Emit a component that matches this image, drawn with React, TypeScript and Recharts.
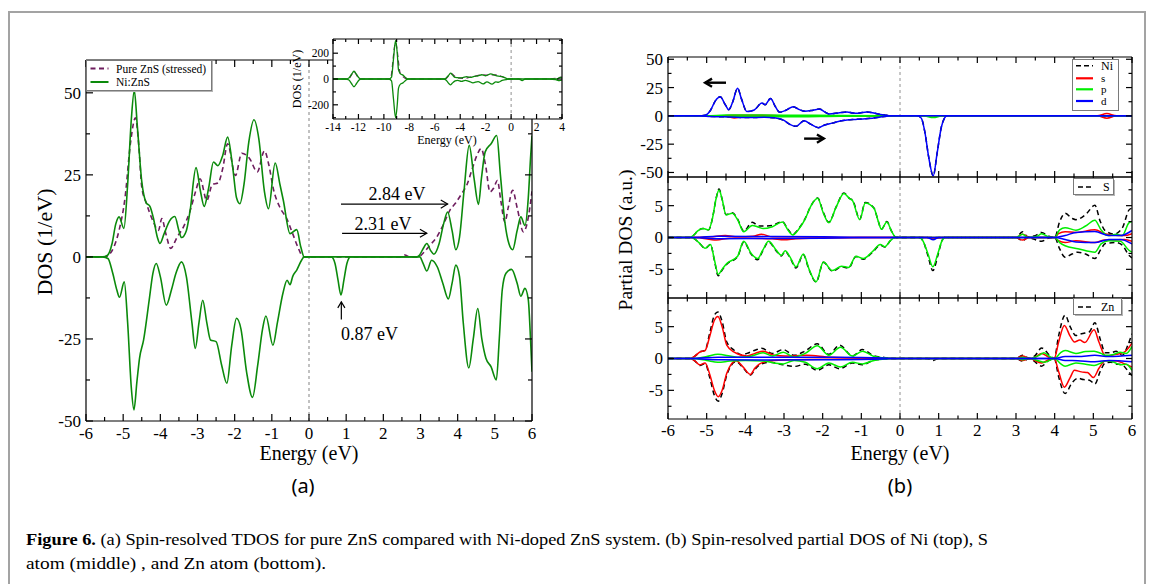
import React from 'react';
import { LineChart, Line, XAxis, YAxis, ReferenceLine } from 'recharts';

type P = [number, number];

// ---------- Panel (a): total DOS ----------
const pureZnSUp: P[] = [
  [-6,0],[-5.5,0],[-5.4,0.5],[-5.25,3],[-5.11,8.1],[-4.95,18],[-4.8,35],[-4.67,42.4],[-4.58,34],[-4.5,21.3],[-4.37,16.2],[-4.2,11],[-4.05,8.1],[-3.96,11.7],[-3.85,7],[-3.72,2.6],[-3.55,6],[-3.38,9.1],[-3.2,14],[-3.05,20],[-2.93,23.8],[-2.75,17.2],[-2.6,22.1],[-2.45,22.5],[-2.32,27],[-2.19,34.5],[-1.98,24.8],[-1.81,31.6],[-1.6,30],[-1.39,25.9],[-1.2,32.3],[-1.08,28],[-0.96,20.8],[-0.78,15],[-0.6,11.7],[-0.44,7.1],[-0.3,3],[-0.15,0],[2.45,0],[2.58,0.6],[2.7,0],[2.94,0],[3.1,1.5],[3.25,3.5],[3.44,6.1],[3.6,9.5],[3.79,14.2],[3.95,16.5],[4.11,19.3],[4.25,22],[4.38,26.4],[4.52,31],[4.63,33],[4.75,28],[4.87,19.8],[4.97,21],[5.07,23.3],[5.16,17.2],[5.27,10.6],[5.36,15],[5.48,20.3],[5.6,15],[5.77,7.6],[5.9,12],[6,20],
];
const niZnSUp: P[] = [
  [-6,0],[-5.55,0],[-5.42,0.5],[-5.3,4],[-5.2,10],[-5.11,12.2],[-4.98,8.7],[-4.88,22],[-4.78,42],[-4.7,50.7],[-4.62,40],[-4.5,23],[-4.38,16.5],[-4.28,15.4],[-4.19,12],[-4.08,6],[-4.01,4.1],[-3.9,7],[-3.75,11],[-3.61,12.3],[-3.5,8],[-3.43,5.9],[-3.3,8],[-3.2,14],[-3.04,27.2],[-2.92,20],[-2.82,15.4],[-2.7,21],[-2.57,28.9],[-2.45,27.8],[-2.32,31],[-2.19,36.5],[-2.05,27],[-1.95,18],[-1.86,16.2],[-1.75,22],[-1.62,35],[-1.48,41.8],[-1.35,36],[-1.2,20],[-1.09,14.7],[-0.91,28.6],[-0.78,22],[-0.69,17.2],[-0.51,7.1],[-0.33,8.3],[-0.22,3],[-0.13,0],[2.9,0],[2.97,0.5],[3.07,2.5],[3.17,4.1],[3.27,2],[3.36,0.8],[3.5,4],[3.62,10],[3.73,13.7],[3.85,8],[3.95,2.2],[4.05,6],[4.17,20],[4.31,34],[4.44,24],[4.56,16],[4.64,24],[4.74,32],[4.9,34.5],[5.05,37],[5.15,25],[5.27,10.6],[5.38,4],[5.48,2.2],[5.6,8],[5.7,12.2],[5.81,9.6],[5.9,18],[5.96,30],[6,37],
];
const niZnSDown: P[] = [
  [-6,0],[-5.55,0],[-5.41,-0.5],[-5.28,-5],[-5.17,-10.1],[-5.1,-12.3],[-4.97,-7.6],[-4.88,-20],[-4.78,-40],[-4.71,-46.6],[-4.63,-38],[-4.56,-30.9],[-4.45,-25.3],[-4.3,-13.2],[-4.2,-5],[-4.11,-2],[-4.0,-6],[-3.84,-14.7],[-3.7,-10],[-3.58,-5],[-3.43,-1.5],[-3.3,-6],[-3.15,-20],[-3.06,-27.9],[-2.96,-20],[-2.86,-13.2],[-2.75,-20],[-2.65,-25.3],[-2.5,-25.8],[-2.35,-33],[-2.21,-38.5],[-2.08,-27],[-1.95,-18.7],[-1.83,-22],[-1.68,-35],[-1.52,-42.8],[-1.38,-33],[-1.25,-22],[-1.16,-18],[-0.97,-26.9],[-0.85,-20],[-0.7,-11],[-0.59,-7.1],[-0.51,-8.5],[-0.44,-6],[-0.33,-4],[-0.2,-1],[-0.13,0],[0.6,0],[0.7,-2],[0.78,-7],[0.86,-11.6],[0.94,-7],[1.02,-2],[1.12,0],[2.98,0],[3.07,-2],[3.17,-4.3],[3.3,-1],[3.45,-3],[3.6,-8],[3.75,-12.8],[3.85,-8],[3.95,-2.5],[4.05,-6],[4.15,-20],[4.3,-33.8],[4.42,-25],[4.54,-15.7],[4.65,-25],[4.76,-30.9],[4.9,-33.5],[5.04,-37.5],[5.12,-25],[5.2,-10],[5.3,-5],[5.45,-3.8],[5.6,-8],[5.7,-12],[5.81,-9.6],[5.9,-13],[5.96,-25],[6,-35],
];

// inset (wide energy range)
const insetPureUp: P[] = [
  [-14,0],[-12.8,0],[-12.35,55],[-11.9,0],[-9.5,0],[-9.08,280],[-8.7,40],[-8.1,0],[-5.2,0],[-4.7,42],[-4.3,12],[-3.7,5],[-2.9,22],[-2.2,32],[-1.8,30],[-1.2,32],[-0.5,10],[-0.15,0],[2.5,0],[3.5,6],[4,15],
];
const insetNiUp: P[] = [
  [-14,0],[-13,0],[-12.75,8],[-12.55,35],[-12.35,60],[-12.15,35],[-11.95,8],[-11.8,0],[-9.6,0],[-9.4,15],[-9.25,150],[-9.08,300],[-8.95,200],[-8.85,70],[-8.7,40],[-8.5,30],[-8.3,12],[-8.1,0],[-5.3,0],[-5.1,8],[-4.9,30],[-4.75,45],[-4.6,30],[-4.4,12],[-4.2,10],[-4.0,8],[-3.8,10],[-3.5,18],[-3.2,12],[-2.9,20],[-2.6,25],[-2.3,33],[-2.0,25],[-1.6,40],[-1.3,30],[-1.0,22],[-0.7,18],[-0.45,8],[-0.2,0],[3.6,0],[3.75,8],[3.9,12],[4,10],
];
const insetNiDown: P[] = [
  [-14,0],[-13,0],[-12.75,-8],[-12.55,-35],[-12.35,-60],[-12.15,-35],[-11.95,-8],[-11.8,0],[-9.6,0],[-9.4,-15],[-9.25,-150],[-9.08,-300],[-8.95,-200],[-8.85,-70],[-8.7,-40],[-8.5,-30],[-8.3,-12],[-8.1,0],[-5.3,0],[-5.1,-10],[-4.9,-35],[-4.75,-45],[-4.6,-30],[-4.4,-15],[-4.2,-10],[-3.9,-18],[-3.6,-10],[-3.3,-18],[-3.0,-30],[-2.6,-20],[-2.2,-38],[-1.9,-22],[-1.5,-40],[-1.2,-22],[-1.0,-25],[-0.7,-10],[-0.4,-5],[-0.2,0],[0.6,0],[0.87,-12],[1.1,0],[3.0,0],[3.5,-5],[3.8,-12],[4,-8],
];

// ---------- Panel (b): partial DOS ----------
// Ni
const niDUp: P[] = [
  [-6,0],[-5.2,0],[-5.04,0.5],[-4.9,5],[-4.78,13],[-4.65,16.8],[-4.52,10],[-4.43,5.5],[-4.33,12],[-4.2,24.3],[-4.1,15],[-3.96,3.8],[-3.77,5.2],[-3.57,11.3],[-3.49,9.8],[-3.35,15.3],[-3.22,8],[-3.11,3.2],[-2.95,5],[-2.76,8.1],[-2.6,5.5],[-2.46,4],[-2.25,5],[-2.08,6.1],[-1.95,3.5],[-1.84,1.7],[-1.6,2.5],[-1.37,3.5],[-1.22,2.5],[-1.09,2.3],[-0.86,3.5],[-0.57,1.7],[-0.4,0.8],[-0.24,0],[6,0],
];
const niDDown: P[] = [
  [-6,0],[-5.2,0],[-4.9,-0.5],[-4.4,-1],[-3.9,-1.5],[-3.5,-1.2],[-3.25,-1.7],[-3.0,-4],[-2.85,-7.5],[-2.69,-9.2],[-2.48,-4.3],[-2.3,-7.5],[-2.11,-10.4],[-1.95,-8],[-1.75,-6.4],[-1.47,-4],[-1.1,-3],[-0.71,-2],[-0.34,-0.3],[-0.2,0],[0.45,0],[0.55,-2],[0.65,-15.6],[0.74,-36],[0.86,-53],[0.96,-33],[1.07,-9.8],[1.15,-2],[1.22,0],[6,0],
];
const niTotalUp: P[] = niDUp;
const niTotalDown: P[] = niDDown;
const niSUp: P[] = [[-6,0],[-4.6,0],[-4.3,0.5],[-3.6,0.5],[-3,0],[5.1,0],[5.35,2],[5.6,0],[6,0]];
const niSDown: P[] = [[-6,0],[-4.6,0],[-4.29,-1.8],[-4.0,-0.3],[-3.54,-1.2],[-3.2,-0.2],[-2,0],[5.1,0],[5.35,-2],[5.6,0],[6,0]];
const niPUp: P[] = [[-6,0],[-5,0],[-4.5,0.8],[-3,0.6],[-1.5,0.3],[-0.2,0],[6,0]];
const niPDown: P[] = [[-6,0],[-5,0],[-4.5,-0.5],[-3,-0.8],[-1.5,-0.3],[-0.2,0],[0.6,0],[0.86,-1.5],[1.1,0],[6,0]];

// S
const sTotalUp: P[] = [
  [-6,0],[-5.45,0],[-5.33,0.4],[-5.23,1.05],[-5.09,1.4],[-4.95,1.2],[-4.85,3],[-4.76,6],[-4.68,7.6],[-4.6,6],[-4.5,3.6],[-4.34,3.9],[-4.2,2.9],[-4.04,1.0],[-3.82,2.4],[-3.65,1.8],[-3.54,1.8],[-3.3,1.9],[-3.04,2.5],[-2.9,1.3],[-2.77,0.5],[-2.62,1.4],[-2.46,2.9],[-2.3,5],[-2.13,6.2],[-1.98,3.9],[-1.84,2.4],[-1.65,4.8],[-1.45,7.0],[-1.3,6.1],[-1.23,5.9],[-1.04,2.9],[-0.9,5.5],[-0.67,4.6],[-0.56,2.5],[-0.48,1.3],[-0.34,2.5],[-0.22,1],[-0.1,0],[3.0,0],[3.17,0.9],[3.3,0.1],[3.5,0.3],[3.66,0.8],[3.85,0.2],[4.0,0],[4.13,2.5],[4.27,3.8],[4.45,3.0],[4.55,2.8],[4.8,3.6],[5.04,5.05],[5.18,2.5],[5.31,1.05],[5.54,0.55],[5.75,1.5],[5.92,4.3],[6,4.6],
];
const sTotalDown: P[] = [
  [-6,0],[-5.4,0],[-5.2,-0.8],[-5.04,-1.7],[-4.9,-1.1],[-4.8,-3.6],[-4.7,-6.0],[-4.6,-5.1],[-4.48,-4.2],[-4.2,-3.0],[-4.04,-0.7],[-3.85,-2.6],[-3.68,-3.5],[-3.55,-2.1],[-3.4,-0.7],[-3.2,-2.1],[-3.07,-2.9],[-2.97,-2.2],[-2.85,-3.1],[-2.69,-4.8],[-2.5,-2.7],[-2.35,-5.1],[-2.17,-7.0],[-1.98,-3.9],[-1.75,-5.3],[-1.51,-4.6],[-1.33,-4.8],[-1.14,-3.0],[-0.95,-3.4],[-0.71,-2.3],[-0.51,-1.2],[-0.39,-1.5],[-0.25,-0.5],[-0.13,0],[0.5,0],[0.6,-0.6],[0.72,-2.8],[0.85,-5.2],[0.98,-2.8],[1.08,-0.6],[1.15,0],[3.0,0],[3.17,-0.5],[3.3,0],[3.66,-0.6],[3.85,-0.1],[4.0,0],[4.13,-1.8],[4.27,-3.1],[4.45,-2.6],[4.6,-2.3],[4.8,-2.6],[5.04,-3.3],[5.2,-1.8],[5.31,-0.95],[5.59,-0.8],[5.75,-1.2],[5.92,-2.8],[6,-3.2],
];
const sPUp: P[] = [
  [-6,0],[-5.45,0],[-5.33,0.4],[-5.23,1.05],[-5.09,1.4],[-4.95,1.2],[-4.85,3],[-4.76,6],[-4.68,7.45],[-4.6,6],[-4.5,3.55],[-4.34,3.8],[-4.2,2.8],[-4.04,0.9],[-3.82,1.9],[-3.65,1.6],[-3.54,1.4],[-3.3,1.7],[-3.04,2.45],[-2.9,1.2],[-2.77,0.4],[-2.62,1.3],[-2.46,2.8],[-2.3,5],[-2.13,6.15],[-1.98,3.8],[-1.84,2.3],[-1.65,4.8],[-1.45,6.9],[-1.3,6.1],[-1.23,5.8],[-1.04,2.8],[-0.9,5.4],[-0.67,4.55],[-0.56,2.5],[-0.48,1.3],[-0.34,2.45],[-0.22,1],[-0.1,0],[3.0,0],[3.17,0.5],[3.3,0],[3.55,0.2],[3.66,0.6],[3.85,0.1],[4.0,0],[4.13,1.2],[4.27,1.55],[4.55,1.15],[4.8,1.8],[5.04,2.7],[5.2,1.2],[5.38,0.3],[5.6,0.5],[5.75,0.3],[5.92,2.3],[6,2.5],
];
const sPDown: P[] = [
  [-6,0],[-5.4,0],[-5.2,-0.8],[-5.04,-1.7],[-4.9,-1.1],[-4.8,-3.5],[-4.7,-5.8],[-4.6,-5],[-4.48,-4.1],[-4.2,-2.95],[-4.04,-0.6],[-3.85,-2.5],[-3.68,-3.3],[-3.55,-2],[-3.4,-0.6],[-3.2,-2],[-3.07,-2.8],[-2.97,-2.1],[-2.85,-3],[-2.69,-4.6],[-2.5,-2.6],[-2.35,-5],[-2.17,-6.95],[-1.98,-3.85],[-1.75,-5.2],[-1.51,-4.5],[-1.33,-4.7],[-1.14,-2.95],[-0.95,-3.3],[-0.71,-2.2],[-0.51,-1.1],[-0.39,-1.45],[-0.25,-0.5],[-0.13,0],[0.5,0],[0.6,-0.6],[0.72,-2.5],[0.85,-4.6],[0.98,-2.5],[1.08,-0.6],[1.15,0],[4.0,0],[4.13,-0.8],[4.27,-1.3],[4.6,-1.75],[5.04,-2.3],[5.2,-1.0],[5.4,-0.5],[5.7,-0.6],[5.92,-2.0],[6,-2.3],
];
const sSUp: P[] = [[-6,0],[-5.3,0],[-4.9,0.1],[-4.52,0.3],[-4.2,0.1],[-3.8,0.2],[-3.58,0.5],[-3.3,0.1],[-2.6,0.1],[-1,0],[3.0,0],[3.17,0.5],[3.35,0],[4.0,0],[4.1,0.6],[4.27,0.9],[4.55,0.8],[5.04,1.2],[5.3,0.6],[5.5,0.4],[5.8,0.3],[6,0.6]];
const sSDown: P[] = [[-6,0],[-5.3,0],[-4.75,-0.4],[-4.4,-0.1],[-4.0,-0.1],[-3.3,-0.2],[-3.0,-0.35],[-2.7,-0.2],[-2.3,-0.1],[-1,0],[0.7,0],[0.86,-0.2],[1.1,0],[3.0,0],[3.17,-0.4],[3.35,0],[4.0,0],[4.1,-0.5],[4.27,-0.8],[4.55,-0.5],[5.04,-0.8],[5.3,-0.4],[5.5,-0.4],[5.8,-0.3],[6,-0.6]];
const sDUp: P[] = [[-6,0],[-5.3,0],[-4.7,0.2],[-3.5,0.15],[-2.0,0.1],[-0.2,0],[4.0,0],[4.27,0.3],[4.55,0.8],[5.04,0.95],[5.4,0.3],[5.7,0.3],[6,1.1]];
const sDDown: P[] = [[-6,0],[-5.3,0],[-4.7,-0.2],[-3.5,-0.15],[-2.0,-0.1],[-0.2,0],[0.7,0],[0.86,-0.35],[1.0,0],[4.0,0],[4.27,-0.3],[4.55,-0.7],[5.04,-0.8],[5.4,-0.3],[5.7,-0.3],[6,-1.0]];

// Zn
const znTotalUp: P[] = [
  [-6,0],[-5.45,0],[-5.3,0.4],[-5.18,1.0],[-5.04,1.3],[-4.92,4],[-4.8,6.8],[-4.71,7.3],[-4.6,5.8],[-4.48,2.6],[-4.29,1.3],[-4.1,0.6],[-3.96,0.8],[-3.75,1.3],[-3.58,1.6],[-3.3,0.8],[-3.02,1.4],[-2.74,0.5],[-2.45,1.2],[-2.14,2.3],[-1.84,0.65],[-1.56,2.1],[-1.23,0.4],[-0.97,1.4],[-0.67,0.4],[-0.45,0.2],[-0.2,0],[3.0,0],[3.17,0.5],[3.35,0],[3.5,0.5],[3.66,1.65],[3.89,0.4],[3.99,0],[4.1,3.5],[4.27,6.8],[4.4,5],[4.55,3.6],[4.65,3.8],[4.78,4.0],[4.9,4.2],[5.04,5.6],[5.18,3],[5.31,0.9],[5.45,0.9],[5.59,1.15],[5.75,0.5],[5.9,2.2],[6,3.9],
];
const znTotalDown: P[] = [
  [-6,0],[-5.45,0],[-5.3,-0.4],[-5.18,-1.1],[-5.04,-0.8],[-4.92,-3],[-4.8,-5.8],[-4.7,-6.7],[-4.6,-5.5],[-4.48,-2.6],[-4.24,-0.5],[-4.05,-1.5],[-3.87,-2.6],[-3.75,-1.7],[-3.63,-1.0],[-3.35,-0.6],[-3.02,-1.0],[-2.74,-1.25],[-2.45,-0.9],[-2.14,-1.85],[-1.84,-1.0],[-1.56,-1.6],[-1.23,-0.7],[-0.97,-1.0],[-0.7,-0.3],[-0.4,-0.1],[-0.2,0],[0.7,0],[0.86,-0.3],[1.0,0],[3.0,0],[3.17,-0.4],[3.35,0],[3.66,-1.2],[3.85,-0.3],[3.99,0],[4.1,-2.8],[4.27,-5.5],[4.45,-3.8],[4.6,-3.1],[4.74,-3.3],[4.9,-3.4],[5.04,-4.0],[5.18,-2.0],[5.31,-0.7],[5.45,-0.6],[5.59,-0.85],[5.75,-1.0],[5.9,-2.0],[6,-2.7],
];
const znSUp: P[] = [
  [-6,0],[-5.45,0],[-5.3,0.4],[-5.18,1.0],[-5.04,1.25],[-4.92,3.5],[-4.8,6],[-4.71,6.6],[-4.6,5],[-4.48,2.1],[-4.29,1.0],[-3.96,0.4],[-3.75,0.8],[-3.54,1.15],[-3.25,0.5],[-2.97,0.4],[-2.41,0.5],[-1.8,0.2],[-0.5,0.05],[0,0],[3.0,0],[3.17,0.4],[3.35,0],[3.5,0.2],[3.66,0.8],[3.85,0.2],[3.99,0],[4.1,2.5],[4.25,5.2],[4.4,3.5],[4.51,2.6],[4.65,2.9],[4.78,2.5],[5.02,4.5],[5.15,2.5],[5.31,0.4],[5.59,0.65],[5.8,1.0],[6,2.4],
];
const znSDown: P[] = [
  [-6,0],[-5.45,0],[-5.3,-0.4],[-5.18,-1.0],[-5.04,-0.7],[-4.92,-2.5],[-4.8,-5],[-4.7,-6.0],[-4.6,-5],[-4.48,-2.3],[-4.24,-0.35],[-4.05,-1.4],[-3.87,-2.5],[-3.75,-1.5],[-3.63,-0.85],[-3.35,-0.35],[-2.78,-0.2],[-1.5,-0.1],[0,0],[3.0,0],[3.17,-0.3],[3.35,0],[3.66,-0.7],[3.85,-0.2],[3.99,0],[4.1,-2],[4.25,-4.5],[4.4,-3.0],[4.51,-1.85],[4.69,-2.1],[4.85,-2.2],[5.0,-3.0],[5.15,-1.5],[5.31,-0.35],[5.6,-0.4],[5.8,-0.8],[6,-1.35],
];
const znPUp: P[] = [
  [-6,0],[-5.4,0],[-5.0,0.3],[-4.71,0.65],[-4.4,0.4],[-4.2,0.2],[-3.9,0.3],[-3.54,0.9],[-3.3,0.4],[-3.02,1.0],[-2.74,0.25],[-2.45,0.8],[-2.14,2.0],[-1.84,0.5],[-1.54,1.75],[-1.23,0.4],[-0.97,1.15],[-0.67,0.3],[-0.4,0.1],[-0.2,0],[3.0,0],[3.17,0.2],[3.35,0],[3.6,0.5],[3.72,0.9],[3.9,0.2],[4.0,0],[4.15,0.9],[4.27,1.25],[4.55,0.8],[4.8,1.1],[5.02,1.15],[5.2,0.8],[5.31,0.5],[5.5,0.6],[5.7,1.0],[5.85,0.8],[6,1.9],
];
const znPDown: P[] = [
  [-6,0],[-5.4,0],[-5.0,-0.3],[-4.71,-0.6],[-4.4,-0.4],[-4.0,-0.3],[-3.54,-0.4],[-3.02,-0.85],[-2.74,-0.3],[-2.45,-0.6],[-2.14,-1.6],[-1.84,-0.7],[-1.54,-1.35],[-1.23,-0.6],[-0.97,-0.85],[-0.67,-0.3],[-0.4,-0.1],[-0.2,0],[3.0,0],[3.17,-0.2],[3.35,0],[3.6,-0.4],[3.72,-0.6],[3.9,-0.2],[4.0,0],[4.15,-0.8],[4.27,-1.2],[4.55,-0.7],[4.8,-0.9],[5.02,-1.1],[5.2,-0.7],[5.31,-0.35],[5.5,-0.5],[5.7,-1.0],[5.85,-0.9],[6,-1.85],
];
const znDUp: P[] = [[-6,0],[-5.4,0],[-4.7,0.2],[-3.5,0.2],[-2.0,0.2],[-1.0,0.15],[-0.3,0.05],[0,0],[4.0,0],[4.27,0.3],[4.6,0.3],[5.04,0.5],[5.4,0.3],[6,0.5]];
const znDDown: P[] = [[-6,0],[-5.4,0],[-4.7,-0.2],[-3.5,-0.25],[-2.0,-0.2],[-1.0,-0.15],[-0.3,-0.05],[0,0],[4.0,0],[4.27,-0.3],[4.6,-0.35],[5.04,-0.5],[5.4,-0.3],[6,-0.5]];

// ---------- ticks ----------
const eTicks = [-6,-5.5,-5,-4.5,-4,-3.5,-3,-2.5,-2,-1.5,-1,-0.5,0,0.5,1,1.5,2,2.5,3,3.5,4,4.5,5,5.5,6];
const eMajor = [-6,-5,-4,-3,-2,-1,0,1,2,3,4,5,6];
const dosTicks = [-50,-37.5,-25,-12.5,0,12.5,25,37.5,50];
const dosMajor = [-50,-25,0,25,50];
const insetETicks = [-14,-13,-12,-11,-10,-9,-8,-7,-6,-5,-4,-3,-2,-1,0,1,2,3,4];
const insetEMajor = [-14,-12,-10,-8,-6,-4,-2,0,2,4];
const insetDosTicks = [-300,-200,-100,0,100,200,300];
const insetDosMajor = [-200,0,200];
const pdosTicks = [-7.5,-5,-2.5,0,2.5,5,7.5];
const pdosMajor = [-5,0,5];

const SERIF = '"Liberation Serif", "DejaVu Serif", serif';
const GREEN = '#0b8a0b';
const PURPLE = '#6e1d5e';
const RED = '#ff0000';
const LIME = '#00ee00';
const BLUE = '#0000ff';

const pts = (a: P[]) => a.map(([e, v]) => ({ e, v }));

type Side = 'left' | 'right' | 'top' | 'bottom';
function tickFn(side: Side, major: number[], fs: number, labels: boolean, gap: number, majLen: number, minLen: number) {
  return (p: any) => {
    const v = Number(p.payload?.value);
    const isMaj = major.some((m) => Math.abs(m - v) < 1e-9);
    const L = isMaj ? majLen : minLen;
    const x = Number(p.x);
    const y = Number(p.y);
    let x2 = x;
    let y2 = y;
    if (side === 'left') x2 = x + L;
    else if (side === 'right') x2 = x - L;
    else if (side === 'top') y2 = y + L;
    else y2 = y - L;
    return (
      <g>
        <line x1={x} y1={y} x2={x2} y2={y2} stroke="#000" strokeWidth={1.2} />
        {labels && isMaj && side === 'left' && (
          <text x={x - gap} y={y + fs * 0.35} textAnchor="end" fontSize={fs} fontFamily={SERIF} fill="#000">{String(v)}</text>
        )}
        {labels && isMaj && side === 'bottom' && (
          <text x={x} y={y + gap} textAnchor="middle" fontSize={fs} fontFamily={SERIF} fill="#000">{String(v)}</text>
        )}
      </g>
    );
  };
}

function frameAxes(c: {
  xd: [number, number]; yd: [number, number]; xt: number[]; xm: number[]; yt: number[]; ym: number[];
  fs: number; xLab: boolean; xGap: number; yGap: number; maj: number; min: number;
}) {
  const base = {
    type: 'number' as const,
    allowDataOverflow: true,
    tickLine: false,
    tickSize: 0,
    tickMargin: 0,
    interval: 0 as const,
    axisLine: { stroke: '#000', strokeWidth: 1.2 },
  };
  return [
    <XAxis key="xb" xAxisId="b" dataKey="e" orientation="bottom" height={1} domain={c.xd} ticks={c.xt}
      tick={tickFn('bottom', c.xm, c.fs, c.xLab, c.xGap, c.maj, c.min)} {...base} />,
    <XAxis key="xt" xAxisId="t" dataKey="e" orientation="top" height={1} domain={c.xd} ticks={c.xt}
      tick={tickFn('top', c.xm, c.fs, false, 0, c.maj, c.min)} {...base} />,
    <YAxis key="yl" yAxisId="l" orientation="left" width={1} domain={c.yd} ticks={c.yt}
      tick={tickFn('left', c.ym, c.fs, true, c.yGap, c.maj, c.min)} {...base} />,
    <YAxis key="yr" yAxisId="r" orientation="right" width={1} domain={c.yd} ticks={c.yt}
      tick={tickFn('right', c.ym, c.fs, false, 0, c.maj, c.min)} {...base} />,
  ];
}

function arrowShape(w: number, head: number) {
  return (p: any) => {
    const x1 = Number(p.x1), y1 = Number(p.y1), x2 = Number(p.x2), y2 = Number(p.y2);
    const ang = Math.atan2(y2 - y1, x2 - x1);
    const a1 = ang + Math.PI * 0.83;
    const a2 = ang - Math.PI * 0.83;
    const h = `${x2 + head * Math.cos(a1)},${y2 + head * Math.sin(a1)} ${x2},${y2} ${x2 + head * Math.cos(a2)},${y2 + head * Math.sin(a2)}`;
    return (
      <g>
        <line x1={x1} y1={y1} x2={x2} y2={y2} stroke="#000" strokeWidth={w} />
        <polyline points={h} fill="none" stroke="#000" strokeWidth={w} />
      </g>
    );
  };
}

function series(data: P[], color: string, width: number, dashed?: boolean, key?: string) {
  return (
    <Line key={key} xAxisId="b" yAxisId="l" data={pts(data)} dataKey="v" type="monotone" stroke={color}
      strokeWidth={width} strokeDasharray={dashed ? '5 3.5' : undefined} dot={false} activeDot={false}
      isAnimationActive={false} />
  );
}

const abs = (l: number, t: number): React.CSSProperties => ({ position: 'absolute', left: l, top: t });

function Txt(props: { x: number; y: number; size: number; children: React.ReactNode; rotate?: boolean; anchor?: 'c' | 'l'; font?: string }) {
  const tr = props.anchor === 'l' ? 'translate(0,-50%)' : props.rotate ? 'translate(-50%,-50%) rotate(-90deg)' : 'translate(-50%,-50%)';
  return (
    <div style={{ position: 'absolute', left: props.x, top: props.y, transform: tr, fontSize: props.size, lineHeight: 1, whiteSpace: 'nowrap', fontFamily: props.font || SERIF, color: '#000' }}>
      {props.children}
    </div>
  );
}

export default function App() {
  return (
    <div style={{ position: 'absolute', left: 0, top: 0, width: 1153, height: 584, overflow: 'hidden', background: '#fff', fontFamily: SERIF }}>
      {/* frame */}
      <div style={{ position: 'absolute', left: 8, top: 11, width: 1138, height: 700, border: '2px solid #a3a3a3', boxSizing: 'border-box' }} />

      {/* Panel (a) main */}
      <div style={abs(0, 0)}>
        <LineChart width={560} height={470} margin={{ top: 59, right: 27, bottom: 48, left: 85 }}>
          {frameAxes({ xd: [-6, 6], yd: [-50, 60], xt: eTicks, xm: eMajor, yt: dosTicks, ym: dosMajor, fs: 17, xLab: true, xGap: 17.5, yGap: 5, maj: 7, min: 4 })}
          <ReferenceLine xAxisId="b" yAxisId="l" x={0} stroke="#a0a0a0" strokeWidth={1.3} strokeDasharray="3 3" />
          {series(pureZnSUp, PURPLE, 1.6, true, 'p')}
          {series(niZnSDown, GREEN, 1.6, false, 'gd')}
          {series(niZnSUp, GREEN, 1.6, false, 'gu')}
          <ReferenceLine xAxisId="b" yAxisId="l" segment={[{ x: 0.86, y: 16.1 }, { x: 3.73, y: 16.1 }]} shape={arrowShape(1.2, 8)} />
          <ReferenceLine xAxisId="b" yAxisId="l" segment={[{ x: 0.89, y: 7.2 }, { x: 3.17, y: 7.2 }]} shape={arrowShape(1.2, 8)} />
          <ReferenceLine xAxisId="b" yAxisId="l" segment={[{ x: 0.87, y: -19.1 }, { x: 0.87, y: -13.7 }]} shape={arrowShape(1.2, 7)} />
        </LineChart>
      </div>

      {/* legend (a) */}
      <svg style={abs(86, 60)} width={130} height={34}>
        <rect x={1} y={1} width={126} height={31} fill="#b5b5b5" />
        <rect x={0.5} y={0.5} width={125} height={30} fill="#fff" stroke="#7a7a7a" strokeWidth={1} />
        <line x1={4.5} x2={22.5} y1={8.5} y2={8.5} stroke={PURPLE} strokeWidth={2} strokeDasharray="5 3.5" />
        <line x1={4.5} x2={22.5} y1={22} y2={22} stroke={GREEN} strokeWidth={2} />
        <text x={30} y={12.5} fontSize={11.5} fontFamily={SERIF} fill="#000">Pure ZnS (stressed)</text>
        <text x={30} y={26} fontSize={11.5} fontFamily={SERIF} fill="#000">Ni:ZnS</text>
      </svg>

      {/* inset */}
      <div style={{ position: 'absolute', left: 333, top: 39, width: 229, height: 80, background: '#fff' }} />
      <div style={abs(290, 25)}>
        <LineChart width={290} height={125} margin={{ top: 13, right: 17, bottom: 30, left: 42 }}>
          {frameAxes({ xd: [-14, 4], yd: [-310, 310], xt: insetETicks, xm: insetEMajor, yt: insetDosTicks, ym: insetDosMajor, fs: 11.5, xLab: true, xGap: 12, yGap: 4, maj: 5, min: 3 })}
          <ReferenceLine xAxisId="b" yAxisId="l" x={0} stroke="#909090" strokeWidth={1} strokeDasharray="3 3" />
          {series(insetPureUp, PURPLE, 1.2, true, 'ip')}
          {series(insetNiDown, GREEN, 1.3, false, 'igd')}
          {series(insetNiUp, GREEN, 1.3, false, 'igu')}
        </LineChart>
      </div>
      <Txt x={297} y={79} size={12} rotate>DOS (1/eV)</Txt>
      <Txt x={447} y={140} size={12}>Energy (eV)</Txt>

      {/* axis titles and annotations (a) */}
      <Txt x={45} y={242} size={22} rotate>DOS (1/eV)</Txt>
      <Txt x={309} y={453} size={20}>Energy (eV)</Txt>
      <Txt x={397} y={194} size={18}>2.84 eV</Txt>
      <Txt x={383} y={224} size={18}>2.31 eV</Txt>
      <Txt x={341} y={334} size={18} anchor="l">0.87 eV</Txt>

      {/* Panel (b) top: Ni */}
      <div style={abs(600, 40)}>
        <LineChart width={545} height={145} margin={{ top: 16, right: 12, bottom: 7, left: 67 }}>
          {frameAxes({ xd: [-6, 6], yd: [-54, 52], xt: eTicks, xm: eMajor, yt: dosTicks, ym: dosMajor, fs: 17, xLab: false, xGap: 18, yGap: 5, maj: 6, min: 3.5 })}
          <ReferenceLine xAxisId="b" yAxisId="l" x={0} stroke="#909090" strokeWidth={1} strokeDasharray="3 3" />
          {series(niTotalUp, '#000', 1.5, true, 'nt1')}
          {series(niTotalDown, '#000', 1.5, true, 'nt2')}
          {series(niSUp, RED, 1.5, false, 'ns1')}
          {series(niSDown, RED, 1.5, false, 'ns2')}
          {series(niPUp, LIME, 1.5, false, 'np1')}
          {series(niPDown, LIME, 1.5, false, 'np2')}
          {series(niDUp, BLUE, 1.5, false, 'nd1')}
          {series(niDDown, BLUE, 1.5, false, 'nd2')}
          <ReferenceLine xAxisId="b" yAxisId="l" segment={[{ x: -4.5, y: 29.3 }, { x: -5.04, y: 29.3 }]} shape={arrowShape(2.4, 8)} />
          <ReferenceLine xAxisId="b" yAxisId="l" segment={[{ x: -2.48, y: -20.1 }, { x: -1.97, y: -20.1 }]} shape={arrowShape(2.4, 8)} />
        </LineChart>
      </div>

      {/* Panel (b) middle: S */}
      <div style={abs(600, 170)}>
        <LineChart width={545} height={140} margin={{ top: 6, right: 12, bottom: 11, left: 67 }}>
          {frameAxes({ xd: [-6, 6], yd: [-9.5, 9.5], xt: eTicks, xm: eMajor, yt: pdosTicks, ym: pdosMajor, fs: 17, xLab: false, xGap: 18, yGap: 5, maj: 6, min: 3.5 })}
          <ReferenceLine xAxisId="b" yAxisId="l" x={0} stroke="#909090" strokeWidth={1} strokeDasharray="3 3" />
          {series(sTotalUp, '#000', 1.5, true, 'st1')}
          {series(sTotalDown, '#000', 1.5, true, 'st2')}
          {series(sSUp, RED, 1.5, false, 'ss1')}
          {series(sSDown, RED, 1.5, false, 'ss2')}
          {series(sPUp, LIME, 1.5, false, 'sp1')}
          {series(sPDown, LIME, 1.5, false, 'sp2')}
          {series(sDUp, BLUE, 1.5, false, 'sd1')}
          {series(sDDown, BLUE, 1.5, false, 'sd2')}
        </LineChart>
      </div>

      {/* Panel (b) bottom: Zn */}
      <div style={abs(600, 290)}>
        <LineChart width={545} height={160} margin={{ top: 7, right: 12, bottom: 30, left: 67 }}>
          {frameAxes({ xd: [-6, 6], yd: [-9.5, 9.5], xt: eTicks, xm: eMajor, yt: pdosTicks, ym: pdosMajor, fs: 17, xLab: true, xGap: 17, yGap: 5, maj: 6, min: 3.5 })}
          <ReferenceLine xAxisId="b" yAxisId="l" x={0} stroke="#909090" strokeWidth={1} strokeDasharray="3 3" />
          {series(znTotalUp, '#000', 1.5, true, 'zt1')}
          {series(znTotalDown, '#000', 1.5, true, 'zt2')}
          {series(znSUp, RED, 1.5, false, 'zs1')}
          {series(znSDown, RED, 1.5, false, 'zs2')}
          {series(znPUp, LIME, 1.5, false, 'zp1')}
          {series(znPDown, LIME, 1.5, false, 'zp2')}
          {series(znDUp, BLUE, 1.5, false, 'zd1')}
          {series(znDDown, BLUE, 1.5, false, 'zd2')}
        </LineChart>
      </div>

      {/* legends (b) */}
      <svg style={abs(1070, 57)} width={52} height={56}>
        <rect x={2.5} y={2.5} width={46} height={51} fill="#fff" stroke="#7a7a7a" strokeWidth={1} />
        <line x1={6} x2={23} y1={8.7} y2={8.7} stroke="#000" strokeWidth={1.5} strokeDasharray="5 3" />
        <line x1={6} x2={23} y1={21.3} y2={21.3} stroke={RED} strokeWidth={2.2} />
        <line x1={6} x2={23} y1={32.3} y2={32.3} stroke={LIME} strokeWidth={2.2} />
        <line x1={6} x2={23} y1={44} y2={44} stroke={BLUE} strokeWidth={2.2} />
        <text x={31} y={13} fontSize={12} fontFamily={SERIF} fill="#000">Ni</text>
        <text x={31} y={24.5} fontSize={11} fontFamily={SERIF} fill="#000">s</text>
        <text x={31} y={35.5} fontSize={11} fontFamily={SERIF} fill="#000">p</text>
        <text x={31} y={47.5} fontSize={11} fontFamily={SERIF} fill="#000">d</text>
      </svg>
      <svg style={abs(1070, 176)} width={50} height={24}>
        <rect x={5} y={4} width={40} height={16} fill="#b5b5b5" />
        <rect x={3.5} y={2.5} width={40} height={16} fill="#fff" stroke="#7a7a7a" strokeWidth={1} />
        <line x1={8} x2={24} y1={11} y2={11} stroke="#000" strokeWidth={1.5} strokeDasharray="5 3" />
        <text x={33} y={15} fontSize={12} fontFamily={SERIF} fill="#000">S</text>
      </svg>
      <svg style={abs(1070, 296)} width={58} height={24}>
        <rect x={5} y={4} width={48} height={16} fill="#b5b5b5" />
        <rect x={3.5} y={2.5} width={48} height={16} fill="#fff" stroke="#7a7a7a" strokeWidth={1} />
        <line x1={8} x2={24} y1={11} y2={11} stroke="#000" strokeWidth={1.5} strokeDasharray="5 3" />
        <text x={31} y={15} fontSize={12} fontFamily={SERIF} fill="#000">Zn</text>
      </svg>

      <Txt x={626} y={240} size={19.5} rotate>Partial DOS (a.u.)</Txt>
      <Txt x={900} y={453} size={20}>Energy (eV)</Txt>

      {/* panel captions */}
      <Txt x={303} y={486} size={20} font={'"Noto Sans", "Open Sans", sans-serif'}>(a)</Txt>
      <Txt x={900} y={486} size={20} font={'"Noto Sans", "Open Sans", sans-serif'}>(b)</Txt>

      {/* figure caption */}
      <svg style={abs(0, 525)} width={1153} height={59}>
        <text x={26} y={20} fontSize={17} fontFamily={SERIF} fill="#000" textLength={962} lengthAdjust="spacingAndGlyphs">
          <tspan fontWeight="bold">Figure 6.</tspan> (a) Spin-resolved TDOS for pure ZnS compared with Ni-doped ZnS system. (b) Spin-resolved partial DOS of Ni (top), S
        </text>
        <text x={26} y={44} fontSize={17} fontFamily={SERIF} fill="#000" textLength={300} lengthAdjust="spacingAndGlyphs">
          atom (middle) , and Zn atom (bottom).
        </text>
      </svg>
    </div>
  );
}
